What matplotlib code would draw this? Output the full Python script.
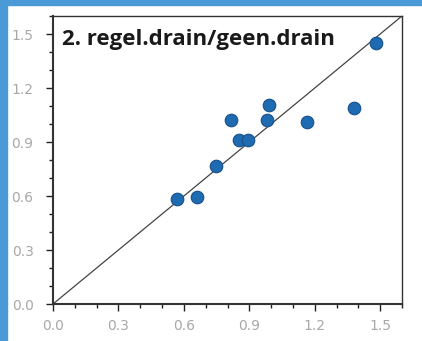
import matplotlib
matplotlib.use('Agg')
import matplotlib.pyplot as plt
from matplotlib.patches import Rectangle
from matplotlib.ticker import MultipleLocator

# ratios
x_vals = [0.567, 0.658, 0.745, 0.855, 0.896, 0.814, 0.979, 0.988, 1.166, 1.381, 1.481]
y_vals = [0.585, 0.597, 0.764, 0.909, 0.909, 1.021, 1.021, 1.104, 1.009, 1.088, 1.450]
title = '2. regel.drain/geen.drain'
ticks = [0.0, 0.3, 0.6, 0.9, 1.2, 1.5]

fig = plt.figure(figsize=(4.22, 3.41), dpi=100)

# blue frame on top and left
fig.patches.append(Rectangle((0, 0), 7 / 422, 1, transform=fig.transFigure, color='#4a9ad8', zorder=0))
fig.patches.append(Rectangle((0, 1 - 5 / 341), 1, 5 / 341, transform=fig.transFigure, color='#4a9ad8', zorder=0))

ax = fig.add_axes([53 / 422, 1 - 304 / 341, (402 - 53) / 422, (304 - 16) / 341])
ax.plot([0, 1.6], [0, 1.6], color='#444444', lw=0.9, zorder=1)
ax.scatter(x_vals, y_vals, s=82, color='#1f6bb2', edgecolor='#17508a', linewidth=0.8, zorder=3)

ax.set_xlim(0, 1.6)
ax.set_ylim(0, 1.6)
ax.set_xticks(ticks)
ax.set_yticks(ticks)
ax.set_xticklabels([f'{t:.1f}' for t in ticks])
ax.set_yticklabels([f'{t:.1f}' for t in ticks])
ax.xaxis.set_minor_locator(MultipleLocator(0.1))
ax.yaxis.set_minor_locator(MultipleLocator(0.1))
ax.tick_params(which='major', length=5, width=1, color='#222222', labelcolor='#a8a8a8', labelsize=10)
ax.tick_params(axis='y', which='major', pad=9)
ax.tick_params(axis='x', which='major', pad=6)
ax.tick_params(which='minor', length=3, width=1, color='#222222')
for s in ax.spines.values():
    s.set_color('#333333')
    s.set_linewidth(1)
ax.spines['left'].set_linewidth(1.5)
ax.spines['bottom'].set_linewidth(1.5)

ax.text(0.025, 0.955, title, transform=ax.transAxes, fontsize=16, fontweight='bold',
        color='#1a1a1a', va='top', ha='left', family='Open Sans')

fig.savefig('out.png', dpi=100)
